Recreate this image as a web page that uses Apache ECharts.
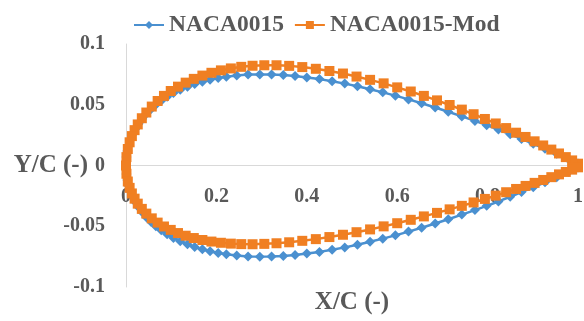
<!DOCTYPE html>
<html>
<head>
<meta charset="utf-8">
<script src="https://cdn.jsdelivr.net/npm/echarts@6/dist/echarts.min.js"></script>
<style>
  html, body { margin: 0; padding: 0; background: #fff; }
  #chart { width: 584px; height: 321px; }
</style>
</head>
<body>
<div id="chart"></div>
<script>
// NACA0015, upper and lower surface, leading edge -> trailing edge
const naca_x = [0, 0.001, 0.003, 0.006, 0.010, 0.015, 0.021, 0.028, 0.036, 0.045, 0.055, 0.066, 0.078, 0.091, 0.105, 0.120, 0.136, 0.152, 0.169, 0.186, 0.204, 0.222, 0.245, 0.270, 0.296, 0.322, 0.348, 0.374, 0.400, 0.428, 0.456, 0.484, 0.512, 0.540, 0.568, 0.596, 0.625, 0.654, 0.684, 0.713, 0.743, 0.772, 0.798, 0.824, 0.850, 0.875, 0.901, 0.927, 0.953, 0.979, 1.0];
const naca_upper = [0, 0.0069, 0.0119, 0.0167, 0.0213, 0.0258, 0.0302, 0.0344, 0.0385, 0.0425, 0.0463, 0.0499, 0.0533, 0.0565, 0.0596, 0.0624, 0.0649, 0.0671, 0.0690, 0.0706, 0.0720, 0.0731, 0.0741, 0.0748, 0.0750, 0.0749, 0.0744, 0.0736, 0.0725, 0.0711, 0.0694, 0.0674, 0.0652, 0.0628, 0.0602, 0.0575, 0.0544, 0.0512, 0.0477, 0.0442, 0.0404, 0.0367, 0.0332, 0.0296, 0.0257, 0.0219, 0.0179, 0.0138, 0.0096, 0.0052, 0.0016];
const naca_lower = [0, -0.0069, -0.0119, -0.0167, -0.0213, -0.0258, -0.0302, -0.0344, -0.0385, -0.0425, -0.0463, -0.0499, -0.0533, -0.0565, -0.0596, -0.0624, -0.0649, -0.0671, -0.0690, -0.0706, -0.0720, -0.0731, -0.0741, -0.0748, -0.0750, -0.0749, -0.0744, -0.0736, -0.0725, -0.0711, -0.0694, -0.0674, -0.0652, -0.0628, -0.0602, -0.0575, -0.0544, -0.0512, -0.0477, -0.0442, -0.0404, -0.0367, -0.0332, -0.0296, -0.0257, -0.0219, -0.0179, -0.0138, -0.0096, -0.0052, -0.0016];

// NACA0015-Mod
const mod_x = [0, 0.001, 0.004, 0.008, 0.013, 0.019, 0.026, 0.035, 0.045, 0.057, 0.070, 0.084, 0.099, 0.115, 0.132, 0.150, 0.169, 0.189, 0.210, 0.232, 0.255, 0.280, 0.306, 0.333, 0.361, 0.390, 0.420, 0.450, 0.480, 0.510, 0.540, 0.570, 0.600, 0.630, 0.659, 0.688, 0.716, 0.743, 0.769, 0.794, 0.818, 0.841, 0.863, 0.884, 0.904, 0.923, 0.941, 0.958, 0.973, 0.987, 1.0];
const mod_upper = [0, 0.0069, 0.0136, 0.0191, 0.0242, 0.0291, 0.0338, 0.0389, 0.0436, 0.0485, 0.0531, 0.0573, 0.0613, 0.0649, 0.0682, 0.0713, 0.0740, 0.0763, 0.0783, 0.0799, 0.0812, 0.0821, 0.0825, 0.0825, 0.0820, 0.0810, 0.0796, 0.0778, 0.0757, 0.0732, 0.0705, 0.0676, 0.0643, 0.0609, 0.0573, 0.0536, 0.0498, 0.0460, 0.0422, 0.0383, 0.0346, 0.0308, 0.0270, 0.0235, 0.0199, 0.0165, 0.0131, 0.0099, 0.0069, 0.0042, 0.0015];
const mod_lower = [0, -0.0068, -0.0132, -0.0184, -0.0230, -0.0273, -0.0314, -0.0357, -0.0396, -0.0435, -0.0470, -0.0502, -0.0530, -0.0556, -0.0578, -0.0597, -0.0613, -0.0626, -0.0636, -0.0643, -0.0647, -0.0648, -0.0645, -0.0640, -0.0632, -0.0620, -0.0606, -0.0589, -0.0570, -0.0549, -0.0526, -0.0501, -0.0475, -0.0447, -0.0419, -0.0390, -0.0361, -0.0332, -0.0304, -0.0275, -0.0248, -0.0220, -0.0193, -0.0168, -0.0143, -0.0119, -0.0096, -0.0073, -0.0053, -0.0034, -0.0015];

const seriesNames = ["NACA0015", "NACA0015-Mod"];

// trailing edge -> leading edge along the upper side, then back along the lower side
function profile(xs, upper, lower) {
  const pts = [];
  for (let i = xs.length - 1; i >= 0; i--) pts.push([xs[i], upper[i]]);
  for (let i = 1; i < xs.length; i++) pts.push([xs[i], lower[i]]);
  return pts;
}

const FONT = "'Liberation Serif', 'Times New Roman', serif";
const TEXT = "#595959";
const PLOT_H = 243; // grid height in px, used to lift the x axis up to y = 0

const chart = echarts.init(document.getElementById("chart"));
chart.setOption({
  animation: false,
  color: ["#4a90d0", "#f07f22"],
  title: {
    text: "X/C (-)",
    left: 347,
    top: 285,
    textAlign: "center",
    textStyle: { fontFamily: FONT, fontWeight: "bold", fontSize: 25, color: TEXT },
  },
  legend: {
    left: 128,
    top: 8,
    itemWidth: 30,
    itemHeight: 10,
    itemGap: 10,
    textStyle: { fontFamily: FONT, fontWeight: "bold", fontSize: 23.5, color: TEXT },
    data: seriesNames,
  },
  grid: { left: 126, right: 6, top: 44, bottom: 34, containLabel: false, outerBoundsMode: "none" },
  xAxis: {
    type: "value",
    min: 0,
    max: 1,
    interval: 0.2,
    position: "bottom",
    offset: -PLOT_H / 2,
    axisLine: { show: true, onZero: false, lineStyle: { color: "#d9d9d9", width: 1 } },
    axisTick: { show: false },
    splitLine: { show: false },
    axisLabel: { margin: 21, fontFamily: FONT, fontWeight: "bold", fontSize: 20, color: TEXT },
  },
  yAxis: {
    type: "value",
    min: -0.1,
    max: 0.1,
    interval: 0.05,
    name: "Y/C (-)",
    nameLocation: "middle",
    nameRotate: 0,
    nameGap: 38,
    nameMoveOverlap: false,
    nameTextStyle: { fontFamily: FONT, fontWeight: "bold", fontSize: 25, color: TEXT },
    axisLine: { show: true, lineStyle: { color: "#d9d9d9", width: 1 } },
    axisTick: { show: false },
    splitLine: { show: false },
    axisLabel: { margin: 21, fontFamily: FONT, fontWeight: "bold", fontSize: 20, color: TEXT },
  },
  series: [
    {
      name: seriesNames[0],
      type: "line",
      data: profile(naca_x, naca_upper, naca_lower),
      symbol: "diamond",
      symbolSize: 10,
      showAllSymbol: true,
      lineStyle: { width: 2.5 },
    },
    {
      name: seriesNames[1],
      type: "line",
      data: profile(mod_x, mod_upper, mod_lower),
      symbol: "rect",
      symbolSize: 10,
      showAllSymbol: true,
      lineStyle: { width: 2.5 },
    },
  ],
});
</script>
</body>
</html>
